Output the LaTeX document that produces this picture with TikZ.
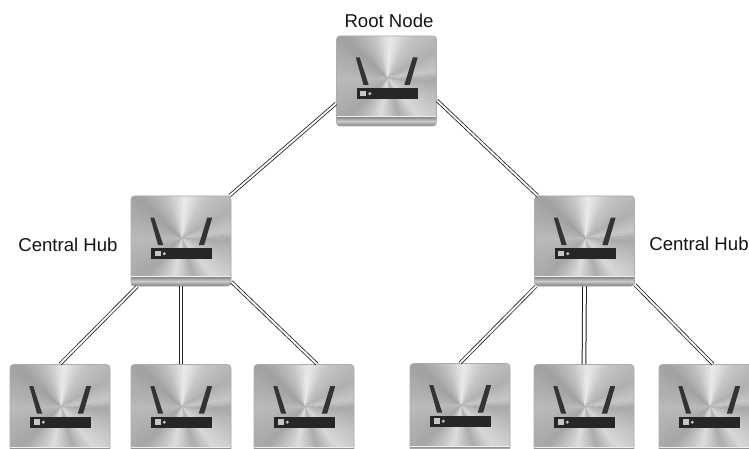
\documentclass[tikz,border=0pt]{standalone}
\usepackage{fontspec}
\setmainfont{Liberation Sans}
\newcommand{\lipheight}{9.5pt}
\tikzset{
  link/.style={double=white,draw=black!88,line width=.8pt,double distance=1.9pt},
  vlink/.style={double=white,draw=black!88,line width=1pt,double distance=2.7pt},
  caption/.style={font=\fontsize{18.6}{20}\selectfont,text=black!92,inner sep=0pt,anchor=center},
  routerbox/.style={draw=black!32,line width=.8pt,minimum width=100pt,minimum height=#1,inner sep=0pt,rounded corners=3.5pt,
    path picture={\routerart}},
  routerbox/.default=90pt,
  leafbox/.style={routerbox,/utils/exec={\renewcommand{\lipheight}{7.5pt}}},
  lipstyle/.style={left color=black!50,right color=black!52,middle color=black!20,shading angle=0},
}
\newcommand{\routerart}{%
  \begin{scope}[sharp corners,shift={(path picture bounding box.center)}]
  \foreach \aa/\ab/\ca/\cb in {0/25/66/76,25/50/76/85,50/72/85/67,72/100/67/87,100/135/87/65,135/180/65/73,
     180/225/73/63,225/250/63/75,250/275/75/92,275/300/92/77,300/330/77/69,330/350/69/78,350/360/78/66}{%
    \foreach \t in {0,...,7}{%
      \pgfmathsetmacro{\s}{\aa+(\ab-\aa)*\t/8}
      \pgfmathsetmacro{\e}{\aa+(\ab-\aa)*(\t+1.4)/8}
      \pgfmathsetmacro{\gg}{100-(\ca+(\cb-\ca)*(\t+.5)/8)}
      \fill[black!\gg] (1,-3) -- (\s:95) -- (\e:95) -- cycle;
    }}
  \fill[black!80] (-30.7,-23.5) -- (-26.8,-23.5) -- (-17.8,4) -- (-23,4) -- cycle;
  \fill[black!80] (26.3,-23.5) -- (31.2,-23.5) -- (23.2,4) -- (17.8,4) -- cycle;
  \fill[black!85] (-30,7) rectangle (31,18);
  \fill[black!22] (-26.5,9.7) rectangle (-20.5,15);
  \fill[black!25] (-16.7,12.7) circle (1.7);
  \end{scope}
  \begin{scope}[sharp corners]
  \fill[lipstyle] ([yshift=\lipheight]path picture bounding box.south west) rectangle (path picture bounding box.south east);
  \draw[black!6,line width=.7pt] ([yshift=\lipheight]path picture bounding box.south west) -- ([yshift=\lipheight]path picture bounding box.south east);
  \end{scope}
}
\begin{document}
\begin{tikzpicture}[x=1pt,y=-1pt]
\useasboundingbox (0,0) rectangle (749,449);
\clip (0,0) rectangle (749,449);
\node[routerbox=90pt] (root) at (386.5,81) {};
\node[routerbox] (hubL) at (181,241) {};
\node[routerbox] (hubR) at (584.5,241) {};
\node[leafbox] (a) at (60,409.5) {};
\node[leafbox] (b) at (181,409.5) {};
\node[leafbox] (c) at (304,409.5) {};
\node[leafbox] (d) at (460,408.5) {};
\node[leafbox] (e) at (584,409.5) {};
\node[leafbox] (f) at (709,409.5) {};
\node[caption] (rootlabel) at (389,21) {Root Node};
\node[caption] (hublabelL) at (68,245) {Central Hub};
\node[caption] (hublabelR) at (699,244) {Central Hub};
\draw[link] (root.204) -- (hubL.43);
\draw[link] (root.-21) -- (hubR.136);
\draw[link] (hubL.226) -- (a.north);
\draw[vlink] (hubL.south) -- (b.north);
\draw[link] (hubL.-39) -- (c.74);
\draw[link] (hubR.223) -- (d.north);
\draw[vlink] (hubR.south) -- (e.north);
\draw[link] (hubR.-41) -- (f.85);
\end{tikzpicture}
\end{document}
